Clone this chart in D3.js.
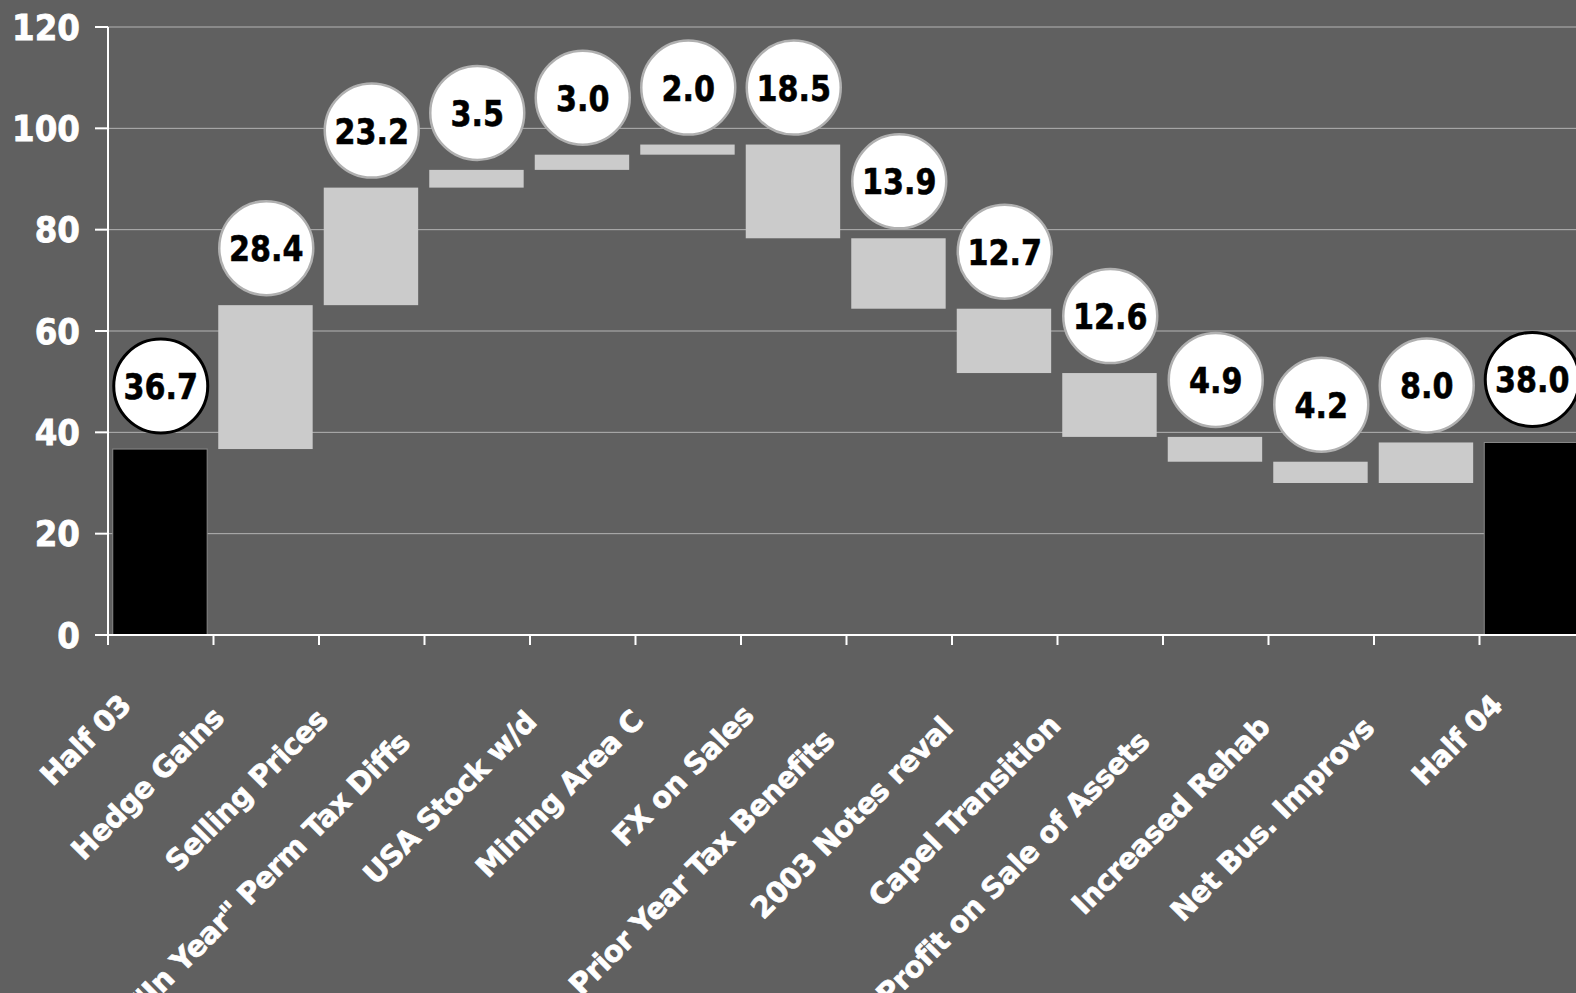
<!DOCTYPE html>
<html>
<head>
<meta charset="utf-8">
<script src="https://cdn.jsdelivr.net/npm/d3@7/dist/d3.min.js"></script>
<style>
  html, body { margin: 0; padding: 0; background: #606060; overflow: hidden; }
  svg { display: block; }
  text { font-family: "DejaVu Sans", sans-serif; font-weight: bold; }
</style>
</head>
<body>
<svg id="chart" width="1576" height="993"></svg>
<script>
// waterfall: first and last are totals, the rest are moves between them
var categories = ['Half 03', 'Hedge Gains', 'Selling Prices', '"In Year" Perm Tax Diffs',
  'USA Stock w/d', 'Mining Area C', 'FX on Sales', 'Prior Year Tax Benefits',
  '2003 Notes reval', 'Capel Transition', 'Profit on Sale of Assets',
  'Increased Rehab', 'Net Bus. Improvs', 'Half 04'];
var changes = [36.7, 28.4, 23.2, 3.5, 3.0, 2.0, -18.5, -13.9, -12.7, -12.6, -4.9, -4.2, 8.0, 38.0];
var isTotal = [true, false, false, false, false, false, false, false, false, false, false, false, false, true];
var yTicks = [0, 20, 40, 60, 80, 100, 120];

var plotL = 108, plotR = 1585, plotT = 27, plotB = 635;
var svg = d3.select('#chart');

var x = d3.scaleBand().domain(categories).range([plotL, plotR]).padding(0);
var y = d3.scaleLinear().domain([0, 120]).range([plotB, plotT]);
var bw = x.bandwidth();

// running totals for the floating bars
var steps = [];
var running = 0;
for (var i = 0; i < categories.length; i++) {
  var s, e;
  if (isTotal[i]) {
    s = 0; e = changes[i];
  } else {
    s = running; e = running + changes[i];
  }
  running = e;
  steps.push({cat: categories[i], start: s, end: e, value: changes[i], total: isTotal[i]});
}

// gridlines
svg.append('g').selectAll('line.grid')
  .data(yTicks.filter(function(t) { return t > 0; }))
  .enter().append('line')
  .attr('class', 'grid')
  .attr('x1', plotL).attr('x2', plotR)
  .attr('y1', function(d) { return y(d); })
  .attr('y2', function(d) { return y(d); })
  .style('stroke', '#b4b4b4')
  .style('stroke-width', 1);

// bars
svg.append('g').selectAll('rect.bar')
  .data(steps)
  .enter().append('rect')
  .attr('class', 'bar')
  .attr('x', function(d) { return x(d.cat) + bw * 0.045; })
  .attr('width', bw * 0.895)
  .attr('y', function(d) { return y(Math.max(d.start, d.end)); })
  .attr('height', function(d) { return Math.abs(y(d.start) - y(d.end)); })
  .style('fill', function(d) { return d.total ? '#000' : '#cbcbcb'; })
  .style('stroke', function(d) { return d.total ? '#8a8a8a' : 'none'; })
  .style('stroke-width', 1);

// y axis
var yAxis = svg.append('g');
yAxis.append('line')
  .attr('x1', plotL).attr('x2', plotL)
  .attr('y1', y(120)).attr('y2', plotB + 10)
  .style('stroke', '#fff').style('stroke-width', 2);
yAxis.selectAll('line.tick')
  .data(yTicks)
  .enter().append('line')
  .attr('x1', plotL - 13).attr('x2', plotL)
  .attr('y1', function(d) { return y(d); })
  .attr('y2', function(d) { return y(d); })
  .style('stroke', '#fff').style('stroke-width', 2);
yAxis.selectAll('text')
  .data(yTicks)
  .enter().append('text')
  .attr('transform', function(d) { return 'translate(80,' + y(d) + ') scale(0.93,1)'; })
  .attr('dy', '0.36em')
  .attr('text-anchor', 'end')
  .style('fill', '#fff')
  .style('stroke', '#fff')
  .style('stroke-width', 0.8)
  .style('font-size', '35px')
  .text(function(d) { return d; });

// x axis, ticks sit on the band edges
var xAxis = svg.append('g');
xAxis.append('line')
  .attr('x1', plotL - 13).attr('x2', plotR)
  .attr('y1', plotB).attr('y2', plotB)
  .style('stroke', '#fff').style('stroke-width', 2);
xAxis.selectAll('line.tick')
  .data(categories.slice(1))
  .enter().append('line')
  .attr('x1', function(d) { return x(d); })
  .attr('x2', function(d) { return x(d); })
  .attr('y1', plotB).attr('y2', plotB + 10)
  .style('stroke', '#fff').style('stroke-width', 2);

xAxis.selectAll('text')
  .data(categories)
  .enter().append('text')
  .attr('text-anchor', 'end')
  .attr('transform', function(d) {
    return 'translate(' + (x(d) + bw / 2 + 2) + ',' + (plotB + 42) + ') rotate(-45)';
  })
  .style('fill', '#fff')
  .style('stroke', '#fff')
  .style('stroke-width', 0.7)
  .style('font-size', '29px')
  .style('letter-spacing', '-0.5px')
  .text(function(d) { return d; })
  .each(function() {
    // longer labels sit further down the diagonal
    var len = this.getComputedTextLength();
    d3.select(this).attr('x', -(0.2 * len + 20));
  });

// value bubbles
var bubbles = svg.append('g').selectAll('g.bubble')
  .data(steps)
  .enter().append('g')
  .attr('class', 'bubble')
  .attr('transform', function(d) {
    var cy = y(Math.max(d.start, d.end)) - (d.total ? 63 : 57);
    return 'translate(' + (x(d.cat) + bw / 2) + ',' + cy + ')';
  });

bubbles.append('circle')
  .attr('r', 47)
  .style('fill', '#fff')
  .style('stroke', function(d) { return d.total ? '#000' : '#b0b0b0'; })
  .style('stroke-width', function(d) { return d.total ? 3 : 2.5; });

bubbles.append('text')
  .attr('text-anchor', 'middle')
  .attr('dy', '0.36em')
  .attr('transform', 'scale(0.84,1)')
  .style('fill', '#000')
  .style('stroke', '#000')
  .style('stroke-width', 0.6)
  .style('font-size', '36px')
  .text(function(d) { return Math.abs(d.value).toFixed(1); });
</script>
</body>
</html>
